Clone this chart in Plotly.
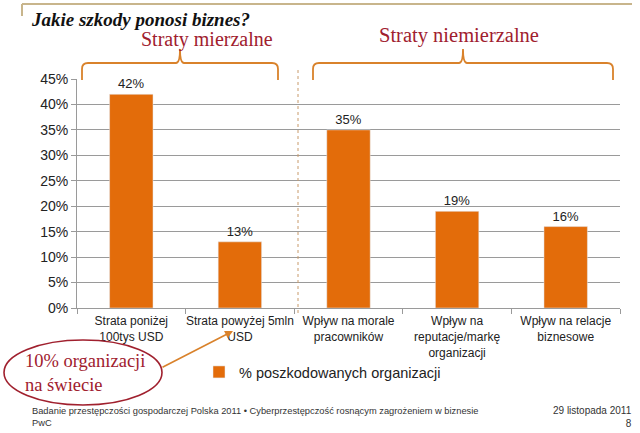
import plotly.graph_objects as go

categories = [
    "Strata poniżej<br>100tys USD",
    "Strata powyżej 5mln<br>USD",
    "Wpływ na morale<br>pracowników",
    "Wpływ na<br>reputacje/markę<br>organizacji",
    "Wpływ na relacje<br>biznesowe",
]
values = [0.42, 0.13, 0.35, 0.19, 0.16]
series_name = "% poszkodowanych organizacji"
title_text = "Jakie szkody ponosi biznes?"
group_labels = ["Straty mierzalne", "Straty niemierzalne"]
callout_text = "10% organizacji<br>na świecie"
footer_left = ["Badanie przestępczości gospodarczej Polska 2011 • Cyberprzestępczość rosnącym zagrożeniem w biznesie", "PwC"]
footer_right = ["29 listopada 2011", "8"]

W, H = 640, 433
L, R, T, B = 77, 20, 79, 125
PW, PH = W - L - R, H - T - B

def px(x):
    return (x - L) / PW

def py(y):
    return (H - B - y) / PH

ORANGE = "#E36C0A"
DARKRED = "#A0202E"
BRACE = "#D9822B"
GRAY = "#9a9a9a"

fig = go.Figure()
fig.add_trace(go.Bar(
    x=categories, y=values, name=series_name,
    marker_color=ORANGE,
    texttemplate="%{y:.0%}", textposition="outside",
    textfont=dict(family="Arial, Liberation Sans", size=13, color="#222"),
    cliponaxis=False,
))

def brace(x0, x1, xm, ybot=80, yh=63, ytip=49, r=6, w=4):
    pts = [
        f"M {px(x0)},{py(ybot)}",
        f"L {px(x0)},{py(yh + r)}",
        f"Q {px(x0)},{py(yh)} {px(x0 + r)},{py(yh)}",
        f"L {px(xm - w)},{py(yh)}",
        f"Q {px(xm)},{py(yh)} {px(xm)},{py(ytip)}",
        f"Q {px(xm)},{py(yh)} {px(xm + w)},{py(yh)}",
        f"L {px(x1 - r)},{py(yh)}",
        f"Q {px(x1)},{py(yh)} {px(x1)},{py(yh + r)}",
        f"L {px(x1)},{py(ybot)}",
    ]
    return dict(type="path", path=" ".join(pts), xref="paper", yref="paper",
                line=dict(color=BRACE, width=1.8), layer="above")

shapes = [
    brace(82, 278, 180),
    brace(313, 613, 463),
    dict(type="line", xref="paper", yref="paper", x0=px(298), x1=px(298), y0=py(313), y1=py(68),
         line=dict(color="#C89A6A", width=1, dash="dot")),
    dict(type="line", xref="paper", yref="paper", x0=px(22), x1=px(632), y0=py(4), y1=py(4),
         line=dict(color="#C8B58C", width=2)),
    dict(type="line", xref="paper", yref="paper", x0=px(22), x1=px(22), y0=py(4), y1=py(16),
         line=dict(color="#C8B58C", width=2)),
    dict(type="circle", xref="paper", yref="paper", x0=px(4), x1=px(162), y0=py(405), y1=py(340),
         line=dict(color=DARKRED, width=1.6), layer="above"),
]

annotations = [
    dict(text=f"<b><i>{title_text}</i></b>", x=px(29), y=py(19), xref="paper", yref="paper",
         xanchor="left", yanchor="middle", showarrow=False,
         font=dict(family="Liberation Serif, DejaVu Serif", size=19, color="#111")),
    dict(text=group_labels[0], x=px(207), y=py(39), xref="paper", yref="paper",
         xanchor="center", yanchor="middle", showarrow=False,
         font=dict(family="Liberation Serif, DejaVu Serif", size=20, color=DARKRED)),
    dict(text=group_labels[1], x=px(459), y=py(36), xref="paper", yref="paper",
         xanchor="center", yanchor="middle", showarrow=False,
         font=dict(family="Liberation Serif, DejaVu Serif", size=20.5, color=DARKRED)),
    dict(text=callout_text, x=px(23), y=py(373), xref="paper", yref="paper",
         xanchor="left", yanchor="middle", align="left", showarrow=False,
         font=dict(family="Liberation Serif, DejaVu Serif", size=18.5, color=DARKRED)),
    dict(text="", x=px(233), y=py(331), xref="paper", yref="paper",
         ax=-72, ay=37, showarrow=True, arrowhead=2, arrowsize=1, arrowwidth=1.6,
         arrowcolor=BRACE),
    dict(text=footer_left[0] + "<br>" + footer_left[1], x=px(30), y=py(417), xref="paper", yref="paper",
         xanchor="left", yanchor="middle", align="left", showarrow=False,
         font=dict(family="Arial, Liberation Sans", size=9.3, color="#333")),
    dict(text=footer_right[0] + "<br>" + footer_right[1], x=px(634), y=py(417), xref="paper", yref="paper",
         xanchor="right", yanchor="middle", align="right", showarrow=False,
         font=dict(family="Arial, Liberation Sans", size=10, color="#333")),
]

fig.update_layout(
    width=W, height=H,
    margin=dict(l=L, r=R, t=T, b=B),
    paper_bgcolor="white", plot_bgcolor="white",
    bargap=0.6,
    showlegend=True,
    legend=dict(orientation="h", x=px(199), y=py(372), xref="paper", yref="paper",
                xanchor="left", yanchor="middle",
                font=dict(family="Arial, Liberation Sans", size=14.5, color="#222"),
                bgcolor="rgba(0,0,0,0)"),
    shapes=shapes,
    annotations=annotations,
    xaxis=dict(type="category", tickson="boundaries", ticks="outside", ticklen=5, tickcolor=GRAY,
               showline=True, linecolor=GRAY, showgrid=False, tickangle=0, ticklabelstandoff=2,
               tickfont=dict(family="Arial, Liberation Sans", size=12, color="#222")),
    yaxis=dict(range=[0, 0.45], dtick=0.05, tickformat=".0%", ticks="outside", ticklen=5,
               tickcolor=GRAY, showline=True, linecolor=GRAY, showgrid=True, gridcolor=GRAY,
               zeroline=False,
               tickfont=dict(family="Arial, Liberation Sans", size=14, color="#222")),
)

fig.write_html("out.html")
